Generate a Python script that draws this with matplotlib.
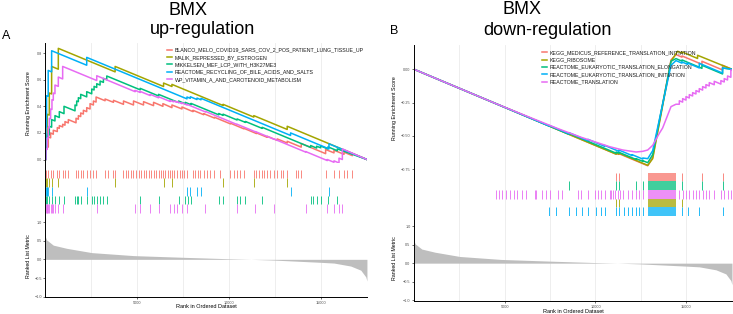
#---------Librerias---------#
import matplotlib
matplotlib.use('Agg')
import matplotlib.pyplot as plt
#---------Librerias---------#

plt.rcParams['font.family'] = ['Liberation Sans', 'DejaVu Sans']

N_GENES = 17520
COLORES = ['#F8766D', '#A3A500', '#00BF7D', '#00B0F6', '#E76BF3']

#----------Datos A (up-regulation)----------#
nombres_a = ['BLANCO_MELO_COVID19_SARS_COV_2_POS_PATIENT_LUNG_TISSUE_UP',
             'MALIK_REPRESSED_BY_ESTROGEN',
             'MIKKELSEN_MEF_LCP_WITH_H3K27ME3',
             'REACTOME_RECYCLING_OF_BILE_ACIDS_AND_SALTS',
             'WP_VITAMIN_A_AND_CAROTENOID_METABOLISM']

es_a_blanco = [(0, 0.0), (27, 0.0), (27, 0.10), (155, 0.093), (155, 0.17), (282, 0.163), (282, 0.20),
               (428, 0.19), (428, 0.22), (646, 0.21), (646, 0.24), (756, 0.234), (756, 0.255),
               (938, 0.245), (938, 0.265), (1065, 0.258), (1065, 0.285), (1247, 0.275), (1247, 0.30),
               (1666, 0.276), (1666, 0.31), (1794, 0.303), (1794, 0.33), (1921, 0.323), (1921, 0.35),
               (2067, 0.342), (2067, 0.37), (2249, 0.36), (2249, 0.39), (2431, 0.38), (2431, 0.42),
               (2613, 0.41), (2613, 0.44), (2759, 0.432), (2759, 0.47), (3250, 0.442), (3250, 0.455),
               (3706, 0.43), (3706, 0.445), (4252, 0.415), (4252, 0.44), (4798, 0.41), (4798, 0.44),
               (5345, 0.41), (5345, 0.435), (5891, 0.405), (5891, 0.43), (6401, 0.40), (6401, 0.42),
               (6893, 0.39), (6893, 0.41), (7439, 0.38), (7439, 0.395), (8040, 0.36), (8040, 0.37),
               (8622, 0.337), (8622, 0.345), (9205, 0.312), (9205, 0.318), (10079, 0.268), (10079, 0.273),
               (10808, 0.231), (10808, 0.235), (11500, 0.195), (11500, 0.20), (12082, 0.167), (12082, 0.175),
               (12629, 0.144), (12629, 0.155), (13175, 0.124), (13175, 0.137), (13940, 0.093), (13940, 0.12),
               (15269, 0.044), (15269, 0.075), (15724, 0.05), (15724, 0.07), (16271, 0.039), (16271, 0.055),
               (16726, 0.029), (16726, 0.045), (17520, 0.0)]
es_a_malik = [(0, 0.0), (30, 0.0), (30, 0.18), (100, 0.176), (100, 0.34), (210, 0.334), (210, 0.50),
              (337, 0.493), (337, 0.70), (701, 0.679), (701, 0.836), (3797, 0.659), (3797, 0.70),
              (6437, 0.549), (6437, 0.575), (6893, 0.549), (6893, 0.565), (9679, 0.406), (9679, 0.415),
              (11354, 0.319), (11354, 0.33), (13175, 0.226), (13175, 0.25), (17520, 0.0)]
es_a_mikkelsen = [(0, 0.0), (27, 0.0), (27, 0.10), (100, 0.096), (100, 0.19), (210, 0.184), (210, 0.25),
                  (337, 0.243), (337, 0.30), (519, 0.29), (519, 0.33), (756, 0.316), (756, 0.36),
                  (1011, 0.345), (1011, 0.40), (1612, 0.366), (1612, 0.41), (1703, 0.405), (1703, 0.44),
                  (1794, 0.435), (1794, 0.465), (1921, 0.458), (1921, 0.49), (2249, 0.471), (2249, 0.51),
                  (2522, 0.494), (2522, 0.53), (2650, 0.523), (2650, 0.55), (2795, 0.542), (2795, 0.57),
                  (2977, 0.56), (2977, 0.59), (3159, 0.58), (3159, 0.61), (3341, 0.60), (3341, 0.628),
                  (5163, 0.524), (5163, 0.535), (6164, 0.478), (6164, 0.49), (7257, 0.428), (7257, 0.44),
                  (7621, 0.419), (7621, 0.43), (7931, 0.412), (7931, 0.422), (9442, 0.336), (9442, 0.346),
                  (9679, 0.332), (9679, 0.341), (10443, 0.297), (10443, 0.305), (10899, 0.279), (10899, 0.286),
                  (11810, 0.234), (11810, 0.242), (14450, 0.091), (14450, 0.105), (14777, 0.086), (14777, 0.10),
                  (14996, 0.088), (14996, 0.102), (15397, 0.079), (15397, 0.095), (15906, 0.066), (15906, 0.08),
                  (17520, 0.0)]
es_a_bile = [(0, 0.0), (27, 0.0), (27, 0.25), (60, 0.248), (60, 0.48), (150, 0.475), (150, 0.67),
             (337, 0.659), (337, 0.818), (2249, 0.709), (2249, 0.768), (7712, 0.456), (7712, 0.47),
             (7894, 0.46), (7894, 0.472), (8258, 0.451), (8258, 0.462), (8477, 0.449), (8477, 0.46),
             (13357, 0.181), (13357, 0.20), (15451, 0.08), (15451, 0.118), (17520, 0.0)]
es_a_vitamin = [(0, 0.0), (27, 0.0), (27, 0.08), (100, 0.076), (100, 0.16), (155, 0.157), (155, 0.24),
                (210, 0.237), (210, 0.31), (282, 0.306), (282, 0.38), (355, 0.376), (355, 0.45),
                (428, 0.446), (428, 0.50), (519, 0.495), (519, 0.56), (701, 0.55), (701, 0.62),
                (938, 0.606), (938, 0.70), (2795, 0.594), (2795, 0.63), (4889, 0.51), (4889, 0.52),
                (5163, 0.504), (5163, 0.512), (5709, 0.481), (5709, 0.49), (6164, 0.464), (6164, 0.472),
                (6801, 0.436), (6801, 0.444), (6983, 0.434), (6983, 0.44), (7166, 0.43), (7166, 0.436),
                (7439, 0.42), (7439, 0.426), (7712, 0.41), (7712, 0.415), (8713, 0.358), (8713, 0.362),
                (10443, 0.263), (10443, 0.265), (11445, 0.208), (11445, 0.21), (12447, 0.153), (12447, 0.155),
                (14177, 0.056), (14177, 0.06), (15360, -0.008), (15360, 0.0), (15724, -0.021), (15724, -0.01),
                (15998, -0.026), (15998, 0.01), (16180, 0.0), (16180, 0.08), (17520, 0.0)]

hits_a_blanco = [30, 155, 282, 428, 646, 756, 938, 1065, 1247, 1666, 1794, 1921, 2067, 2249, 2431, 2613,
                 2759, 3250, 3433, 3706, 3797, 4252, 4398, 4525, 4653, 4798, 4944, 5072, 5199, 5345, 5490,
                 5618, 5745, 5891, 6037, 6164, 6292, 6401, 6528, 6656, 6765, 6893, 7020, 7166, 7311, 7439,
                 7566, 7712, 8040, 8167, 8295, 8440, 8622, 8805, 8987, 9205, 9533, 10079, 10261, 10443,
                 10626, 10808, 11354, 11500, 11645, 11791, 11937, 12082, 12264, 12447, 12629, 12811, 12957,
                 13175, 13630, 13776, 13940, 15269, 15724, 15998, 16271, 16453, 16726]
hits_a_malik = [30, 100, 210, 337, 701, 3797, 6437, 6893, 9679, 11354, 13175]
hits_a_mikkelsen = [27, 100, 210, 337, 519, 756, 1011, 1612, 1703, 1794, 1921, 2249, 2522, 2650, 2795,
                    2977, 3159, 3341, 5163, 6164, 7257, 7621, 7749, 7931, 9442, 9679, 10443, 10626, 10899,
                    11810, 14450, 14595, 14777, 14996, 15397, 15906]
hits_a_bile = [27, 60, 100, 150, 337, 2249, 7712, 7894, 8258, 8477, 13357, 15451]
hits_a_vitamin = [27, 60, 100, 155, 210, 282, 355, 428, 519, 701, 938, 2795, 4889, 5163, 5709, 6164,
                  6801, 6983, 7166, 7439, 7712, 8713, 10443, 11445, 12447, 14177, 15360, 15724, 15998, 16180]

#----------Datos B (down-regulation)----------#
nombres_b = ['KEGG_MEDICUS_REFERENCE_TRANSLATION_INITIATION',
             'KEGG_RIBOSOME',
             'REACTOME_EUKARYOTIC_TRANSLATION_ELONGATION',
             'REACTOME_EUKARYOTIC_TRANSLATION_INITIATION',
             'REACTOME_TRANSLATION']

es_b_medicus = [(0, 0.0), (11138, -0.636), (11138, -0.63), (11285, -0.638), (11285, -0.632), (12879, -0.723),
                (13152, -0.66), (14160, 0.07), (14436, 0.11), (14766, 0.091), (14766, 0.10), (15865, 0.037),
                (15865, 0.06), (17001, -0.005), (17001, 0.03), (17520, 0.0)]
es_b_ribosome = [(0, 0.0), (11138, -0.636), (11138, -0.628), (11285, -0.636), (11285, -0.628), (12879, -0.72),
                 (13152, -0.67), (14160, 0.06), (14527, 0.135), (14766, 0.121), (14766, 0.13), (15624, 0.081),
                 (15624, 0.105), (17520, 0.0)]
es_b_elongation = [(0, 0.0), (8537, -0.487), (8537, -0.48), (11138, -0.629), (11138, -0.62), (11285, -0.628),
                   (11285, -0.622), (12238, -0.676), (12238, -0.67), (12604, -0.69), (12604, -0.685),
                   (12879, -0.70), (13152, -0.64), (14160, 0.06), (14433, 0.08), (14766, 0.061), (14766, 0.07),
                   (15865, 0.007), (15865, 0.03), (17001, -0.035), (17001, 0.01), (17520, 0.0)]
es_b_initiation = [(0, 0.0), (7438, -0.425), (7438, -0.42), (8537, -0.483), (8537, -0.475), (9581, -0.535),
                   (9581, -0.525), (10497, -0.577), (10497, -0.57), (11285, -0.615), (11285, -0.605),
                   (12018, -0.647), (12018, -0.64), (12604, -0.673), (12604, -0.665), (12879, -0.67),
                   (13152, -0.61), (14160, 0.03), (14433, 0.065), (14766, 0.046), (14766, 0.055),
                   (15077, 0.037), (15077, 0.047), (15718, 0.01), (15718, 0.045), (16905, -0.023),
                   (17001, -0.028), (17001, 0.01), (17520, 0.0)]
es_b_translation = [(0, 0.0), (4507, -0.257), (6192, -0.35), (7932, -0.445), (9215, -0.51), (10772, -0.58),
                    (11505, -0.605), (12235, -0.62), (12604, -0.615), (12879, -0.605), (13152, -0.57),
                    (13518, -0.48), (13700, -0.44), (14160, -0.28), (14436, -0.262), (14619, -0.262),
                    (14619, -0.236), (14802, -0.246), (14802, -0.22), (14986, -0.231), (14986, -0.205),
                    (15169, -0.215), (15169, -0.19), (15352, -0.20), (15352, -0.175), (15535, -0.185),
                    (15535, -0.16), (15718, -0.17), (15718, -0.145), (15902, -0.156), (15902, -0.13),
                    (16085, -0.14), (16085, -0.115), (16268, -0.125), (16268, -0.10), (16543, -0.116),
                    (16543, -0.09), (16909, -0.111), (16909, -0.085), (17093, -0.095), (17093, -0.07),
                    (17276, -0.08), (17276, -0.05), (17459, -0.06), (17459, -0.005), (17520, -0.008)]

hits_b_medicus = [11138, 11285, 14766, 15865, 17001]
hits_b_ribosome = [11138, 11285, 14766]
hits_b_elongation = [8537, 11138, 11285, 12238, 12604, 14766, 15865, 17001]
hits_b_initiation = [7438, 7841, 8537, 8940, 9270, 9581, 10039, 10314, 10497, 11138, 11285, 11596, 11780,
                     12018, 12238, 12421, 12604, 14766, 15077, 15718, 17001]
hits_b_translation = [4507, 4690, 4873, 5093, 5276, 5496, 5679, 5972, 6192, 6650, 6742, 7071, 7291, 7474,
                      7932, 8170, 9032, 9215, 9581, 9947, 10131, 10314, 10497, 10772, 10864, 10992, 11102,
                      11230, 11358, 11505, 11780, 12018, 12238, 12421, 12604, 14619, 14802, 14986, 15169,
                      15352, 15535, 15718, 15902, 16085, 16268, 16543, 16909, 17093, 17276, 17459]
# bloque denso de genes del leading edge (todos los sets de B)
bloque_b = [(12879, 14436)]

#----------Ranked list metric----------#
metric_rank = [0, 64, 428, 1157, 2523, 4799, 7530, 9990, 11200, 12449, 14999, 15727, 16638, 17184, 17457, 17520]
metric_value = [0.6, 0.52, 0.38, 0.295, 0.18, 0.10, 0.054, 0.016, 0.0, -0.02, -0.08, -0.10, -0.18, -0.29, -0.47, -0.58]


def panel(fig, x0, ancho, cajas, nombres, curvas, golpes, bloques, orden_rug, lim_es, ticks_es,
          lim_rug, lim_met, leyenda_xy, lab_x, xlab_y):
    ax1 = fig.add_axes([x0, cajas[0][0], ancho, cajas[0][1]])
    ax2 = fig.add_axes([x0, cajas[1][0], ancho, cajas[1][1]])
    ax3 = fig.add_axes([x0, cajas[2][0], ancho, cajas[2][1]])
    for ax in (ax1, ax2, ax3):
        ax.set_xlim(0, N_GENES)
        for v in range(2500, N_GENES, 2500):
            ax.axvline(v, color='#EBEBEB', lw=0.6, zorder=0)
        for s in ('top', 'right', 'bottom'):
            ax.spines[s].set_visible(False)
        ax.spines['left'].set_linewidth(0.7)
        ax.tick_params(axis='x', bottom=False, labelbottom=False)
        ax.tick_params(axis='y', length=1.5, width=0.5, labelsize=2.7, labelcolor='#4D4D4D', pad=1,
                       color='#333333')

    # curvas de enrichment score
    for i in range(len(nombres)):
        xs = [p[0] for p in curvas[i]]
        ys = [p[1] for p in curvas[i]]
        ax1.plot(xs, ys, color=COLORES[i], lw=1.1, label=nombres[i])
    ax1.set_ylim(*lim_es)
    ax1.set_yticks(ticks_es)
    ax1.set_ylabel('Running Enrichment Score', fontsize=3.8)
    ax1.yaxis.set_label_coords(lab_x, 0.5)
    ley = ax1.legend(loc='upper left', bbox_to_anchor=leyenda_xy, bbox_transform=fig.transFigure,
                     frameon=False, fontsize=3.8, handlelength=1.0, handletextpad=0.5,
                     labelspacing=0.45, borderpad=0, borderaxespad=0)
    for t in ley.get_texts():
        t.set_color('#1A1A1A')

    # rug de genes
    ax2.set_ylim(*lim_rug)
    ax2.set_yticks([])
    for fila, i in enumerate(orden_rug):
        y0 = 4 - fila
        ax2.vlines(golpes[i], y0, y0 + 1, color=COLORES[i], lw=0.6)
        for a, b in bloques[i]:
            ax2.fill_between([a, b], y0, y0 + 1, color=COLORES[i], lw=0, alpha=0.75)

    # ranked list metric
    ax3.fill_between(metric_rank, metric_value, 0, color='#BEBEBE', lw=0)
    ax3.set_ylim(*lim_met)
    ax3.set_yticks([-1.0, -0.5, 0.0, 0.5, 1.0])
    ax3.spines['bottom'].set_visible(True)
    ax3.spines['bottom'].set_linewidth(0.7)
    ax3.set_xticks([5000, 10000, 15000])
    ax3.tick_params(axis='x', bottom=True, labelbottom=True, length=1.5, width=0.5, labelsize=2.7,
                    labelcolor='#4D4D4D', pad=1.5, color='#333333')
    ax3.set_ylabel('Ranked List Metric', fontsize=3.8)
    ax3.yaxis.set_label_coords(lab_x, 0.5)
    ax3.set_xlabel('Rank in Ordered Dataset', fontsize=4)
    ax3.xaxis.set_label_coords(0.5, xlab_y)


fig = plt.figure(figsize=(7.33, 3.14), dpi=100)

panel(fig, 0.062, 0.4386,
      [(0.481, 0.382), (0.312, 0.169), (0.054, 0.258)],
      nombres_a,
      [es_a_blanco, es_a_malik, es_a_mikkelsen, es_a_bile, es_a_vitamin],
      [hits_a_blanco, hits_a_malik, hits_a_mikkelsen, hits_a_bile, hits_a_vitamin],
      [[], [], [], [], []],
      [0, 1, 3, 2, 4],
      (-0.026, 0.876), [0.0, 0.2, 0.4, 0.6, 0.8],
      (-0.35, 5.8), (-1.01, 1.16),
      (167 / 733, 1 - 47.5 / 314), -0.046, -0.086)

panel(fig, 0.5648, 0.4338,
      [(0.4522, 0.4045), (0.312, 0.1402), (0.0414, 0.2706)],
      nombres_b,
      [es_b_medicus, es_b_ribosome, es_b_elongation, es_b_initiation, es_b_translation],
      [hits_b_medicus, hits_b_ribosome, hits_b_elongation, hits_b_initiation, hits_b_translation],
      [bloque_b, bloque_b, bloque_b, bloque_b, bloque_b],
      [0, 2, 4, 1, 3],
      (-0.770, 0.182), [0.0, -0.25, -0.50, -0.75],
      (-0.05, 5.1), (-1.02, 1.27),
      (541.7 / 733, 1 - 50 / 314), -0.054, -0.094)

# titulos y letras de panel
fig.text(188 / 733, 1 - 15 / 314, 'BMX', fontsize=13, ha='center', va='baseline')
fig.text(202 / 733, 1 - 34.3 / 314, 'up-regulation', fontsize=13, ha='center', va='baseline')
fig.text(522 / 733, 1 - 14.3 / 314, 'BMX', fontsize=13, ha='center', va='baseline')
fig.text(547 / 733, 1 - 35 / 314, 'down-regulation', fontsize=13, ha='center', va='baseline')
fig.text(2 / 733, 1 - 39 / 314, 'A', fontsize=9, ha='left', va='baseline')
fig.text(390 / 733, 1 - 34.3 / 314, 'B', fontsize=9, ha='left', va='baseline')

fig.savefig('out.png', dpi=100)
